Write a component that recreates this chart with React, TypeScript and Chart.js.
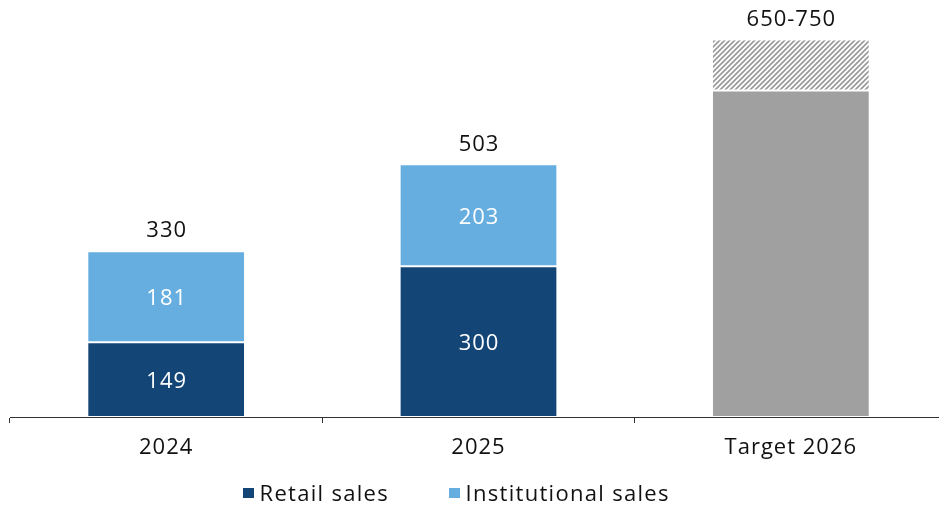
import React, { useEffect, useRef } from "react";
import { Chart, registerables } from "chart.js";

Chart.register(...registerables);

const categories = ["2024", "2025", "Target 2026"];
const retailSales = [149, 300, null];
const institutionalSales = [181, 203, null];
const targetLow = [null, null, 650];
const targetRange = [null, null, 100]; // 650 -> 750
const totalLabels = ["330", "503", "650-750"];
const legendItems = ["Retail sales", "Institutional sales"];

const DARK = "#134677";
const LIGHT = "#66aee0";
const GRAY = "#a0a0a0";
const FONT = "'Open Sans', Lato, sans-serif";

function makeHatch(): CanvasPattern | string {
  const c = document.createElement("canvas");
  c.width = 5;
  c.height = 5;
  const g = c.getContext("2d");
  if (!g) return GRAY;
  g.fillStyle = "#ffffff";
  g.fillRect(0, 0, 5, 5);
  g.strokeStyle = "#9a9a9a";
  g.lineWidth = 1.7;
  g.beginPath();
  g.moveTo(-1, 6);
  g.lineTo(6, -1);
  g.moveTo(-1, 1);
  g.lineTo(1, -1);
  g.moveTo(4, 6);
  g.lineTo(6, 4);
  g.stroke();
  const p = g.createPattern(c, "repeat");
  return p || GRAY;
}

const spacingPlugin = {
  id: "letterSpacing",
  beforeDraw(chart: any) {
    (chart.ctx as any).letterSpacing = "1px";
  },
};

const labelPlugin = {
  id: "valueLabels",
  afterDatasetsDraw(chart: any) {
    const ctx = chart.ctx;
    ctx.save();
    (ctx as any).letterSpacing = "1px";
    ctx.textAlign = "center";
    ctx.textBaseline = "middle";
    ctx.font = `22px ${FONT}`;
    // inside labels for the two sales series
    [0, 1].forEach((di) => {
      const meta = chart.getDatasetMeta(di);
      meta.data.forEach((el: any, i: number) => {
        const v = chart.data.datasets[di].data[i];
        if (v == null) return;
        ctx.fillStyle = "#ffffff";
        ctx.fillText(String(v), el.x + 0.5, (el.y + el.base) / 2 + 2);
      });
    });
    // totals above each stack
    categories.forEach((_, i) => {
      let top = Infinity;
      let x = 0;
      chart.data.datasets.forEach((ds: any, di: number) => {
        if (ds.data[i] == null) return;
        const el = chart.getDatasetMeta(di).data[i];
        if (el && el.y < top) {
          top = el.y;
          x = el.x;
        }
      });
      if (top !== Infinity) {
        ctx.fillStyle = "#111111";
        ctx.fillText(totalLabels[i], x + 0.5, top - 20);
      }
    });
    ctx.restore();
  },
};

export default function App() {
  const ref = useRef<HTMLCanvasElement>(null);

  useEffect(() => {
    if (!ref.current) return;
    const hatch = makeHatch();
    const common = {
      borderColor: "#ffffff",
      borderSkipped: false,
      barPercentage: 0.505,
      categoryPercentage: 1,
    };
    const chart = new Chart(ref.current, {
      type: "bar",
      data: {
        labels: categories,
        datasets: [
          { label: "Retail sales", data: retailSales, backgroundColor: DARK, borderWidth: 1, ...common },
          { label: "Institutional sales", data: institutionalSales, backgroundColor: LIGHT, borderWidth: 1, ...common },
          { label: "Target", data: targetLow, backgroundColor: GRAY, borderWidth: 1, ...common },
          {
            label: "Target range",
            data: targetRange,
            backgroundColor: hatch as any,
            borderWidth: { top: 0, left: 1, right: 1, bottom: 1 },
            ...common,
          },
        ] as any,
      },
      options: {
        animation: false,
        responsive: false,
        layout: { padding: { left: 10, top: 15, right: 0, bottom: 43 } },
        plugins: {
          legend: { display: false },
          tooltip: { enabled: false },
        },
        scales: {
          x: {
            stacked: true,
            offset: true,
            afterFit: (s: any) => {
              s.height = 45;
            },
            grid: {
              offset: true,
              display: true,
              drawOnChartArea: false,
              drawTicks: true,
              tickLength: 6,
              color: "#333333",
              lineWidth: 1,
            },
            border: { display: true, color: "#333333", width: 1 },
            ticks: {
              color: "#111111",
              padding: 12,
              font: { family: FONT, size: 22 },
            },
          },
          y: {
            stacked: true,
            display: false,
            min: 0,
            max: 800,
          },
        },
      },
      plugins: [spacingPlugin, labelPlugin],
    });
    return () => chart.destroy();
  }, []);

  const legendLeft = [243, 449];
  const legendColors = [DARK, LIGHT];

  return (
    <div
      style={{
        position: "absolute",
        left: 0,
        top: 0,
        width: 939,
        height: 505,
        overflow: "hidden",
        background: "#ffffff",
      }}
    >
      <canvas ref={ref} width={947} height={505} style={{ display: "block" }} />
      {legendItems.map((t, i) => (
        <div
          key={t}
          style={{
            position: "absolute",
            left: legendLeft[i],
            top: 481,
            height: 22,
            lineHeight: "22px",
            display: "flex",
            alignItems: "center",
            fontFamily: FONT,
            fontSize: 22,
            letterSpacing: "1.3px",
            color: "#111111",
            whiteSpace: "nowrap",
          }}
        >
          <span
            style={{
              display: "inline-block",
              width: 10.5,
              height: 10.5,
              background: legendColors[i],
              marginRight: 6,
              marginTop: 2,
            }}
          />
          <span>{t}</span>
        </div>
      ))}
    </div>
  );
}
